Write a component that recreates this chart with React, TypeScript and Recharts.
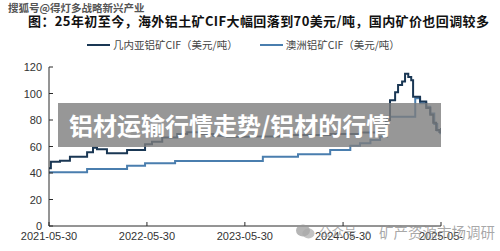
import React from 'react';
import { LineChart, Line, XAxis, YAxis } from 'recharts';

// Guinea bauxite CIF (USD/t), step changes
const guineaDates = [
  '2021-05-30', '2021-06-06', '2021-07-10', '2021-08-16', '2021-10-19', '2021-11-10',
  '2021-11-25', '2022-01-01', '2022-03-17', '2022-05-23', '2022-06-18', '2022-07-26',
  '2022-09-20', '2022-10-27', '2022-12-14', '2023-02-01', '2023-03-25', '2023-06-18',
  '2023-10-08', '2024-04-12', '2024-08-01', '2024-10-08', '2024-11-06', '2024-11-21',
  '2024-12-10', '2024-12-21', '2025-01-05', '2025-01-16', '2025-01-28', '2025-02-08',
  '2025-02-15', '2025-03-13', '2025-04-05', '2025-04-20', '2025-05-01', '2025-05-12',
  '2025-05-24', '2025-05-30',
];
const guineaValues = [
  43.5, 48.5, 49.3, 52.3, 55.6, 59.1,
  58, 54.9, 57.4, 61.7, 63.6, 66.7,
  69.5, 70.8, 69.5, 68.2, 67.4, 67.5,
  68.7, 69.5, 70.5, 72, 80, 95,
  101, 106.5, 109, 115, 112.5, 110,
  97.5, 94, 89, 84, 78, 72.5,
  71, 74,
];

// Australia bauxite CIF (USD/t)
const ausDates = [
  '2021-05-30', '2021-10-19', '2022-03-17', '2022-05-23', '2022-09-12', '2023-08-05',
  '2023-12-14', '2024-04-12', '2024-06-26', '2024-08-01', '2024-09-09', '2024-10-15',
  '2024-11-10', '2025-02-23', '2025-03-13', '2025-04-05', '2025-04-20', '2025-05-05',
  '2025-05-16', '2025-05-27', '2025-05-30',
];
const ausValues = [
  40.5, 43, 45.5, 47.3, 49, 52.3,
  54.1, 57.4, 60.6, 62.4, 65, 67.4,
  82.5, 96.4, 92.7, 90, 85, 77,
  72, 70, 72,
];

const xTickDates = ['2021-05-30', '2022-05-30', '2023-05-30', '2024-05-30', '2025-05-30'];
const xTickLabels = ['2021-05-30', '2022-05-30', '2023-05-30', '2024-05-30', '2025-05-'];
const yTicks = [0, 20, 40, 60, 80, 100, 120];

const toT = (d: string) => Date.parse(d + 'T00:00:00Z');

const guineaData = guineaDates.map((d, i) => ({ t: toT(d), v: guineaValues[i] }));
const ausData = ausDates.map((d, i) => ({ t: toT(d), v: ausValues[i] }));
const xTicks = xTickDates.map(toT);

const GUINEA = '#1a3754';
const AUS = '#4a7eae';
const AXIS = '#2a2a2a';

const XTick = (props: any) => {
  const { x, y, payload } = props;
  const i = xTicks.indexOf(payload.value);
  return (
    <g>
      <line x1={x} x2={x} y1={y} y2={y - 4} stroke={AXIS} />
      <text x={x} y={y + 14} textAnchor="middle" fontSize={11} fill="#333"
        fontFamily="'Liberation Sans', Arial, sans-serif">
        {xTickLabels[i]}
      </text>
    </g>
  );
};

const YTick = (props: any) => {
  const { x, y, payload } = props;
  return (
    <g>
      <line x1={x} x2={x + 4} y1={y} y2={y} stroke={AXIS} />
      <text x={x - 7} y={y + 4} textAnchor="end" fontSize={11} fill="#333"
        fontFamily="'Liberation Sans', Arial, sans-serif">
        {payload.value}
      </text>
    </g>
  );
};

const cjk = "'Noto Sans CJK SC', sans-serif";

export default function App() {
  return (
    <div style={{ position: 'absolute', left: 0, top: 0, width: 500, height: 251, background: '#fff', overflow: 'hidden' }}>
      <div style={{ position: 'absolute', left: 8, top: 0, fontSize: 10.5, fontFamily: cjk, color: '#555', fontWeight: 700, whiteSpace: 'nowrap' }}>
        搜狐号@得灯多战略新兴产业
      </div>
      <div style={{ position: 'absolute', left: 28, top: 11, fontSize: 13, letterSpacing: 0.4, fontFamily: cjk, color: '#111', fontWeight: 700, whiteSpace: 'nowrap' }}>
        图：25年初至今，海外铝土矿CIF大幅回落到70美元/吨，国内矿价也回调较多
      </div>

      {/* legend */}
      <div style={{ position: 'absolute', left: 87, top: 37, display: 'flex', alignItems: 'center', fontSize: 10.5, fontFamily: cjk, color: '#444', whiteSpace: 'nowrap' }}>
        <span style={{ display: 'inline-block', width: 23, height: 2, background: GUINEA, marginRight: 3 }} />
        <span>几内亚铝矿CIF（美元/吨）</span>
        <span style={{ display: 'inline-block', width: 23, height: 2, background: AUS, marginLeft: 22, marginRight: 3 }} />
        <span>澳洲铝矿CIF（美元/吨）</span>
      </div>

      <div style={{ position: 'absolute', left: 0, top: 0 }}>
        <LineChart width={500} height={251} margin={{ top: 67, right: 59, bottom: 5, left: 9 }}>
          <XAxis
            type="number"
            dataKey="t"
            domain={[xTicks[0], xTicks[4]]}
            ticks={xTicks}
            interval={0}
            allowDataOverflow
            tick={<XTick />}
            tickLine={false}
            tickSize={0}
            tickMargin={0}
            height={20}
            axisLine={{ stroke: AXIS }}
          />
          <YAxis
            domain={[0, 120]}
            ticks={yTicks}
            interval={0}
            width={40}
            tick={<YTick />}
            tickLine={false}
            tickSize={0}
            tickMargin={0}
            axisLine={{ stroke: AXIS }}
          />
          <Line data={ausData} dataKey="v" type="stepAfter" stroke={AUS} strokeWidth={2} dot={false} isAnimationActive={false} />
          <Line data={guineaData} dataKey="v" type="stepAfter" stroke={GUINEA} strokeWidth={2} dot={false} isAnimationActive={false} />
        </LineChart>
      </div>

      {/* overlay banner */}
      <div style={{ position: 'absolute', left: 58, top: 103, width: 383, height: 44, background: 'rgba(125,125,125,0.8)', color: '#fff', fontFamily: cjk, fontWeight: 700, fontSize: 24, lineHeight: '44px', paddingLeft: 11, boxSizing: 'border-box', whiteSpace: 'nowrap' }}>
        铝材运输行情走势/铝材的行情
      </div>

      {/* bottom-right watermark */}
      <div style={{ position: 'absolute', left: 296, top: 221, display: 'flex', alignItems: 'center', color: 'rgba(140,140,140,0.75)', fontFamily: cjk, fontSize: 14.5, whiteSpace: 'nowrap' }}>
        <svg width={19} height={15} style={{ marginRight: 4 }}>
          <ellipse cx={7} cy={6.5} rx={7} ry={6} fill="rgba(150,150,150,0.7)" />
          <ellipse cx={12.5} cy={9.5} rx={6} ry={5} fill="rgba(170,170,170,0.7)" />
        </svg>
        <span style={{ fontSize: 12.5 }}>公众号</span>
        <span style={{ margin: '0 4px' }}>·</span>
        <span>矿产资源市场调研</span>
      </div>
    </div>
  );
}
